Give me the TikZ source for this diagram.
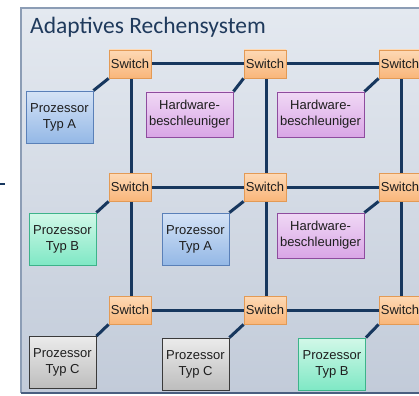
\documentclass[tikz,border=0pt]{standalone}
\usepackage{fontspec}
\setmainfont{Liberation Sans}
\newfontfamily\boxfont{Liberation Sans}
\newfontfamily\titlefont{Carlito}
\definecolor{panelT}{HTML}{E4E9F0}
\definecolor{panelB}{HTML}{C2CBD9}
\definecolor{panelD}{HTML}{8C9DB5}
\definecolor{panelBot}{HTML}{4A5F80}
\definecolor{titleC}{HTML}{1F3A5C}
\definecolor{lineC}{HTML}{17375E}
\definecolor{swT}{HTML}{FDD9B5}
\definecolor{swBo}{HTML}{F9B67A}
\definecolor{swD}{HTML}{E39A55}
\definecolor{paT}{HTML}{D5E3F6}
\definecolor{paB}{HTML}{94B8E6}
\definecolor{paD}{HTML}{5A80B8}
\definecolor{hwT}{HTML}{F0D8F5}
\definecolor{hwB}{HTML}{D9A6E6}
\definecolor{hwD}{HTML}{8E4C9E}
\definecolor{pbT}{HTML}{D2F8E8}
\definecolor{pbB}{HTML}{7FE8C5}
\definecolor{pbD}{HTML}{3DB38A}
\definecolor{pcT}{HTML}{EBEBEB}
\definecolor{pcB}{HTML}{BDBDBD}
\definecolor{pcD}{HTML}{3A3A3A}
\definecolor{txtC}{HTML}{1E1E1E}
\pgfdeclarelayer{bg}
\pgfdeclarelayer{links}
\pgfsetlayers{bg,links,main}
\begin{document}
\begin{tikzpicture}[x=1pt,y=-1pt,
  boxtext/.style={text=txtC, align=center, inner sep=0pt, font=\boxfont\fontsize{13}{16}\selectfont},
  sw/.style={boxtext, draw=swD, line width=0.8pt, top color=swT, bottom color=swBo, minimum width=42pt, minimum height=28pt},
  proza/.style={boxtext, draw=paD, line width=0.8pt, top color=paT, bottom color=paB, minimum width=67pt, minimum height=52pt},
  hw/.style={boxtext, draw=hwD, line width=0.8pt, top color=hwT, bottom color=hwB, minimum width=87pt, minimum height=45pt},
  prozb/.style={boxtext, draw=pbD, line width=0.8pt, top color=pbT, bottom color=pbB, minimum width=67pt, minimum height=52pt},
  prozc/.style={boxtext, draw=pcD, line width=0.8pt, top color=pcT, bottom color=pcB, minimum width=67pt, minimum height=52pt},
  link/.style={draw=lineC, line width=3pt}]
\useasboundingbox (0,0) rectangle (419,395);
% panel
\begin{pgfonlayer}{bg}
\shade[top color=panelT, bottom color=panelB] (21,8) rectangle (422,393);
\draw[panelD, line width=1.2pt] (422,8) -- (21,8) -- (21,393);
\draw[panelBot, line width=1.6pt] (21,393) -- (422,393);
\end{pgfonlayer}
\node[anchor=base west, inner sep=0pt, text=titleC, font=\titlefont\fontsize{23.5}{26}\selectfont] (title) at (30,34) {Adaptives Rechensystem};
% stray line at left edge
\coordinate (ls) at (0,184);
\coordinate (le) at (4.5,184);
\draw[link, line width=2.5pt] (ls) -- (le);
% switches
\node[sw] (s11) at (130,64) {Switch};
\node[sw] (s12) at (265,64) {Switch};
\node[sw] (s13) at (400,64) {Switch};
\node[sw] (s21) at (130,187) {Switch};
\node[sw] (s22) at (265,187) {Switch};
\node[sw] (s23) at (400,187) {Switch};
\node[sw] (s31) at (130,310) {Switch};
\node[sw] (s32) at (265,310) {Switch};
\node[sw] (s33) at (400,310) {Switch};
% components
\node[proza] (c11) at (59.5,117) {Prozessor\\Typ A};
\node[hw] (c12) at (189.5,114.5) {Hardware-\\beschleuniger};
\node[hw] (c13) at (320.5,114.5) {Hardware-\\beschleuniger};
\node[prozb] (c21) at (62.5,239) {Prozessor\\Typ B};
\node[proza] (c22) at (195.5,239) {Prozessor\\Typ A};
\node[hw] (c23) at (320.5,235.5) {Hardware-\\beschleuniger};
\node[prozc] (c31) at (62.5,362.5) {Prozessor\\Typ C};
\node[prozc] (c32) at (195.5,364) {Prozessor\\Typ C};
\node[prozb] (c33) at (332,364) {Prozessor\\Typ B};
% links
\begin{pgfonlayer}{links}
\foreach \r in {1,2,3}{
  \draw[link] (s\r1.center) -- (s\r2.center) -- (s\r3.center);
}
\foreach \c in {1,2,3}{
  \draw[link] ([xshift=1.5pt]s1\c.center) -- ([xshift=1.5pt]s3\c.center);
}
\foreach \r in {1,2,3}{
  \foreach \c in {1,2,3}{
    \draw[link] (s\r\c.south west) -- (c\r\c.north east);
  }
}
\end{pgfonlayer}
\end{tikzpicture}
\end{document}
